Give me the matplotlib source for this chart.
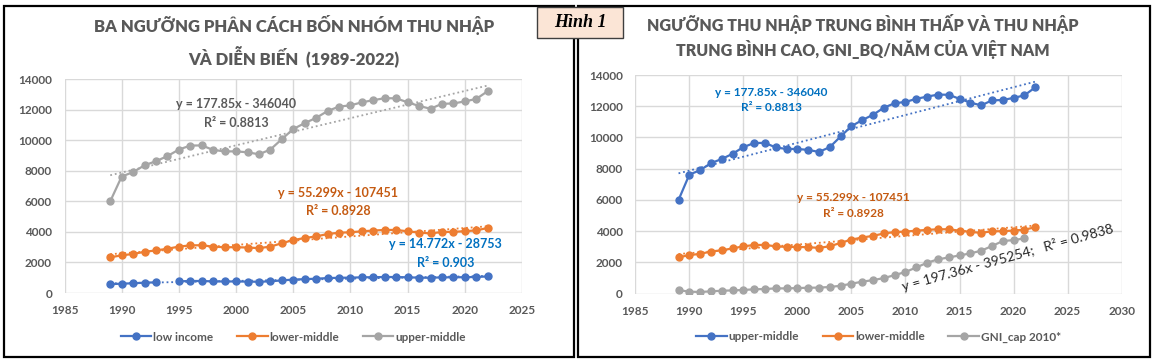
import matplotlib
matplotlib.use('Agg')
import matplotlib.pyplot as plt
import numpy as np
from matplotlib.lines import Line2D
from matplotlib.patches import Rectangle

# ---------------- data ----------------
years = [1989, 1990, 1991, 1992, 1993, 1994, 1995, 1996, 1997, 1998, 1999, 2000,
         2001, 2002, 2003, 2004, 2005, 2006, 2007, 2008, 2009, 2010, 2011, 2012,
         2013, 2014, 2015, 2016, 2017, 2018, 2019, 2020, 2021, 2022]
gni_years = years[:-1]

low_income = [580, 610, 635, 675, 695, np.nan, 765, 785, 785, 760, 755, 755,
              745, 735, 765, 825, 875, 905, 935, 975, 995, 1005, 1025, 1035,
              1045, 1045, 1025, 1005, 995, 1025, 1025, 1035, 1045, 1085]
lower_middle = [2335, 2465, 2555, 2695, 2785, 2895, 3035, 3115, 3125, 3030, 2995, 2995,
                2975, 2935, 3035, 3255, 3465, 3595, 3705, 3855, 3945, 3975, 4035, 4085,
                4125, 4125, 4035, 3955, 3895, 3995, 4000, 4045, 4095, 4255]
upper_middle = [6000, 7620, 7910, 8355, 8625, 8955, 9385, 9645, 9655, 9360, 9265, 9265,
                9205, 9075, 9385, 10065, 10725, 11115, 11455, 11905, 12195, 12275, 12475, 12615,
                12745, 12735, 12475, 12235, 12055, 12375, 12400, 12535, 12695, 13205]
gni_cap_2010 = [230, 130, 110, 150, 190, 210, 240, 280, 300, 340, 340, 360,
                380, 390, 430, 510, 640, 770, 870, 1000, 1190, 1390, 1680, 1980,
                2200, 2320, 2450, 2580, 2750, 3050, 3370, 3430, 3540]

# trendline equations as printed on the chart
up_slope, up_icpt, up_r2 = 177.85, -346040, '0.8813'
lm_slope, lm_icpt, lm_r2 = 55.299, -107451, '0.8928'
lo_slope, lo_icpt, lo_r2 = 14.772, -28753, '0.903'
gni_slope, gni_icpt, gni_r2 = 197.36, -395254, '0.9838'

left_title = "BA NGƯỠNG PHÂN CÁCH BỐN NHÓM THU NHẬP\nVÀ DIỄN BIẾN  (1989-2022)"
right_title = "NGƯỠNG THU NHẬP TRUNG BÌNH THẤP VÀ THU NHẬP\nTRUNG BÌNH CAO, GNI_BQ/NĂM CỦA VIỆT NAM"
left_legend = ['low income', 'lower-middle', 'upper-middle']
right_legend = ['upper-middle', 'lower-middle', 'GNI_cap 2010*']
badge_text = 'Hình 1'

# ---------------- style ----------------
BLUE, ORANGE, GREY = '#4472C4', '#ED7D31', '#A5A5A5'
TXT = '#595959'
FONT = ['Lato', 'Noto Sans', 'DejaVu Sans']
plt.rcParams['font.family'] = FONT

W, H = 1154, 361
fig = plt.figure(figsize=(W / 100, H / 100), dpi=100)


def fx(px):
    return px / W


def fy(py):
    return 1 - py / H


def axes_px(x0, x1, y0, y1):
    return fig.add_axes([fx(x0), fy(y1), fx(x1) - fx(x0), (y1 - y0) / H])


def style(ax, xmax):
    ax.set_xlim(1985, xmax)
    ax.set_ylim(0, 14000)
    ax.set_xticks(range(1985, xmax + 1, 5))
    ax.set_yticks(range(0, 14001, 2000))
    ax.grid(True, color='#D9D9D9', lw=1)
    ax.set_axisbelow(True)
    for s in ax.spines.values():
        s.set_visible(False)
    ax.tick_params(axis='both', length=0, labelsize=8.5, labelcolor=TXT)
    ax.tick_params(axis='x', pad=9)
    ax.tick_params(axis='y', pad=9)
    for lab in ax.get_xticklabels() + ax.get_yticklabels():
        lab.set_fontweight('bold')


def series(ax, x, y, c):
    ax.plot(x, y, color=c, lw=1.6, marker='o', ms=5.0, zorder=3)


def trend(ax, slope, icpt, c):
    xs = np.array([years[0], years[-1]], dtype=float)
    ax.plot(xs, slope * xs + icpt, color=c, lw=1.3, ls=(0, (1, 1.6)), zorder=4)


def eq(slope, icpt):
    return f"y = {slope}x - {abs(icpt)}"


def legend(ax, labels, colors, y):
    handles = [Line2D([0], [0], color=c, lw=1.6, marker='o', ms=5.0) for c in colors]
    leg = ax.legend(handles, labels, loc='center', bbox_to_anchor=(0.5, y), ncol=3,
                    frameon=False, handlelength=2.6, handletextpad=0.15,
                    columnspacing=2.0, prop={'size': 8.5, 'weight': 'bold', 'family': FONT})
    for t in leg.get_texts():
        t.set_color(TXT)


# ---------------- left chart ----------------
axL = axes_px(64.5, 522, 79, 293)
style(axL, 2025)
series(axL, years, low_income, BLUE)
series(axL, years, lower_middle, ORANGE)
series(axL, years, upper_middle, GREY)
trend(axL, lo_slope, lo_icpt, BLUE)
trend(axL, lm_slope, lm_icpt, ORANGE)
trend(axL, up_slope, up_icpt, GREY)
lab = dict(ha='center', va='center', fontsize=9, fontweight='bold', zorder=6)
axL.text(2000, 12365, eq(up_slope, up_icpt), color=TXT, **lab)
axL.text(2000, 11140, f"R² = {up_r2}", color=TXT, **lab)
axL.text(2008.9, 6520, eq(lm_slope, lm_icpt), color='#C55A11', **lab)
axL.text(2008.9, 5365, f"R² = {lm_r2}", color='#C55A11', **lab)
axL.text(2018.3, 3185, eq(lo_slope, lo_icpt), color='#0070C0', **lab)
axL.text(2018.3, 1982, f"R² = {lo_r2}", color='#0070C0', **lab)
legend(axL, left_legend, [BLUE, ORANGE, GREY], -0.206)

# ---------------- right chart ----------------
axR = axes_px(635.3, 1121.6, 75, 293.7)
style(axR, 2030)
series(axR, years, upper_middle, BLUE)
series(axR, years, lower_middle, ORANGE)
series(axR, gni_years, gni_cap_2010, GREY)
trend(axR, up_slope, up_icpt, BLUE)
trend(axR, lm_slope, lm_icpt, ORANGE)
labR = dict(ha='center', va='center', fontsize=8.5, fontweight='bold', zorder=6)
axR.text(1997.6, 12893, eq(up_slope, up_icpt), color='#0070C0', **labR)
axR.text(1997.6, 11907, f"R² = {up_r2}", color='#0070C0', **labR)
axR.text(2005.2, 6171, eq(lm_slope, lm_icpt), color='#C55A11', **labR)
axR.text(2005.2, 5147, f"R² = {lm_r2}", color='#C55A11', **labR)
axR.text(2019.5, 2330, f"{eq(gni_slope, gni_icpt)};   R² = {gni_r2}", color='#262626',
         ha='center', va='center', fontsize=10, rotation=15.5, zorder=6)
legend(axR, right_legend, [BLUE, ORANGE, GREY], -0.198)

# ---------------- titles ----------------
fig.text(fx(294), fy(42), left_title, ha='center', va='center', fontsize=12,
         fontweight='heavy', color=TXT, linespacing=1.6)
fig.text(fx(863), fy(36.5), right_title, ha='center', va='center', fontsize=11.5,
         fontweight='heavy', color=TXT, linespacing=1.35)

# ---------------- panel borders ----------------
fig.patches.append(Rectangle((fx(4), fy(357)), fx(574) - fx(4), (357 - 6) / H,
                             transform=fig.transFigure, fill=False, ec='black', lw=1.6, zorder=10))
fig.patches.append(Rectangle((fx(578), fy(357)), fx(1150) - fx(578), (357 - 6) / H,
                             transform=fig.transFigure, fill=False, ec='black', lw=1.6, zorder=10))
fig.patches.append(Rectangle((fx(537), fy(38)), fx(623) - fx(537), (38 - 7) / H,
                             transform=fig.transFigure, fc='#FBE5D6', ec='#3F3F3F', lw=1.0, zorder=11))
fig.text(fx(580), fy(22.5), badge_text, ha='center', va='center', fontsize=13,
         fontweight='bold', fontstyle='italic', family=['Liberation Serif', 'DejaVu Serif'],
         color='black', zorder=12)

fig.savefig('out.png', dpi=100)
